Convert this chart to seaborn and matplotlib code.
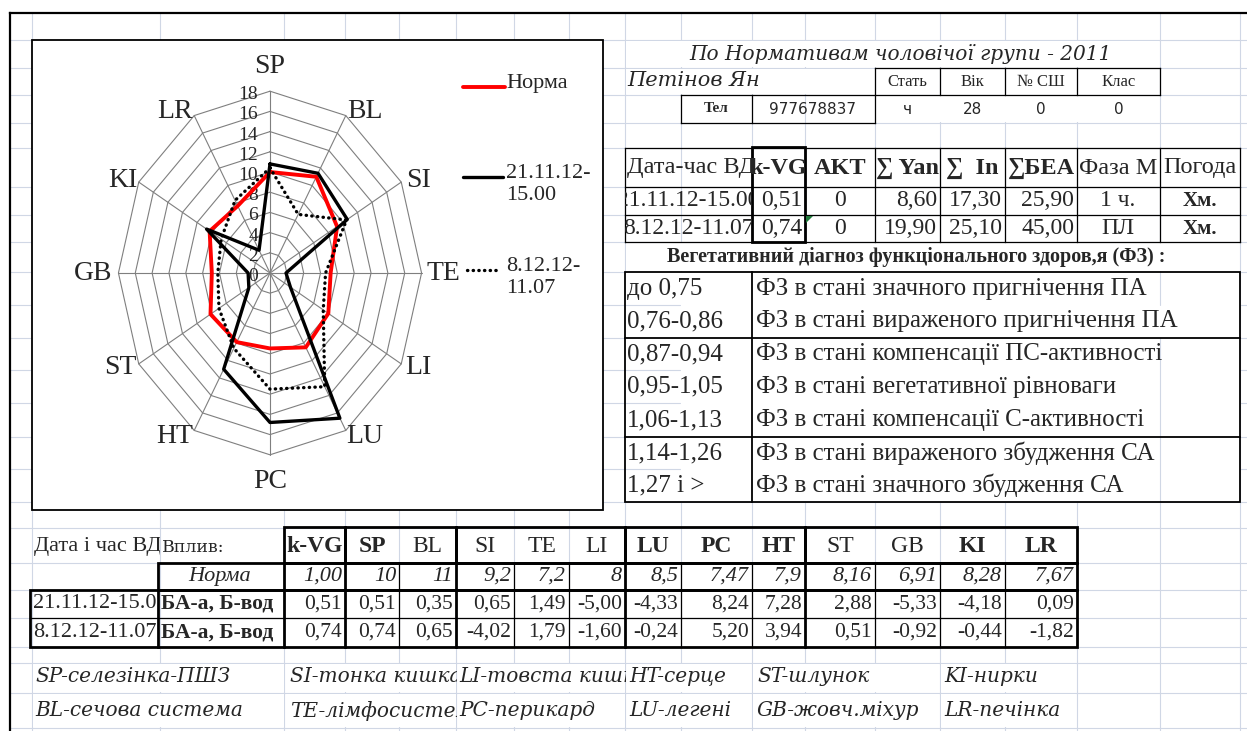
import numpy as np
import pandas as pd
import matplotlib
matplotlib.use("Agg")
import matplotlib.pyplot as plt
import seaborn as sns
from matplotlib.patches import Rectangle, Polygon
from matplotlib.transforms import Bbox, TransformedBbox

# ---- radar data ----
ORGANS = ["SP", "BL", "SI", "TE", "LI", "LU", "PC", "HT", "ST", "GB", "KI", "LR"]
NORMA = [10, 11, 9.2, 7.2, 8, 8.5, 7.47, 7.9, 8.16, 6.91, 8.28, 7.67]
VISIT_1 = [10.8, 11.4, 10.6, 1.9, 2.8, 16.6, 14.8, 11.0, 2.9, 2.6, 8.7, 2.6]
VISIT_2 = [10.4, 6.7, 10.5, 6.6, 7.3, 13.0, 11.5, 8.6, 7.0, 6.2, 6.7, 8.3]
RADAR_TICKS = list(range(0, 19, 2))
LEGEND_NAMES = ["Норма", "21.11.12-\n15.00", "8.12.12-\n11.07"]

# ---- patient block ----
TITLE = "По Нормативам чоловічої групи - 2011"
NAME = "Петінов Ян"
INFO_HEAD = ["Стать", "Вік", "№ СШ", "Клас"]
INFO_VALS = ["ч", "28", "0", "0"]
PHONE = "977678837"

# ---- visit table ----
HEAD_COLS = ["Дата-час ВД", "k-VG", "AKT", "∑ Yan", "∑  In", "∑БЕА", "Фаза М", "Погода"]
VISIT_DATES = ["21.11.12-15.00", "8.12.12-11.07"]
KVG = ["0,51", "0,74"]
AKT = ["0", "0"]
SUM_YAN = ["8,60", "19,90"]
SUM_IN = ["17,30", "25,10"]
SUM_BEA = ["25,90", "45,00"]
MOON = ["1 ч.", "ПЛ"]
WEATHER = ["Хм.", "Хм."]

# ---- diagnosis table ----
DIAG_TITLE = "Вегетативний діагноз функціонального здоров,я (ФЗ) :"
DIAG_RANGES = ["до 0,75", "0,76-0,86", "0,87-0,94", "0,95-1,05", "1,06-1,13", "1,14-1,26", "1,27 і >"]
DIAG_TEXT = ["ФЗ в стані значного пригнічення ПА",
             "ФЗ в стані вираженого пригнічення ПА",
             "ФЗ в стані компенсації ПС-активності",
             "ФЗ в стані вегетативної рівноваги",
             "ФЗ в стані компенсації С-активності",
             "ФЗ в стані вираженого збудження СА",
             "ФЗ в стані значного збудження СА"]

# ---- bottom table ----
BOTTOM_HEAD = ["k-VG"] + ORGANS
BOLD_HEAD = {"k-VG", "SP", "LU", "PC", "HT", "KI", "LR"}
NORMA_ROW = ["1,00", "10", "11", "9,2", "7,2", "8", "8,5", "7,47", "7,9", "8,16", "6,91", "8,28", "7,67"]
ROW_1 = ["0,51", "0,51", "0,35", "0,65", "1,49", "-5,00", "-4,33", "8,24", "7,28", "2,88", "-5,33", "-4,18", "0,09"]
ROW_2 = ["0,74", "0,74", "0,65", "-4,02", "1,79", "-1,60", "-0,24", "5,20", "3,94", "0,51", "-0,92", "-0,44", "-1,82"]
INFLUENCE = "БА-а, Б-вод"

FOOT_1 = ["SP-селезінка-ПШЗ", "SI-тонка кишка", "LI-товста кишка", "HT-серце", "ST-шлунок", "KI-нирки"]
FOOT_2 = ["BL-сечова система", "TE-лімфосистема", "PC-перикард", "LU-легені", "GB-жовч.міхур", "LR-печінка"]

# ---- sheet layout (pixels) ----
W, H = 1247, 731
GRID = "#d0d7e5"
COL_LINES = [32, 160, 284, 345, 399, 456, 514, 569, 625, 681, 752, 805, 875, 940, 1005, 1077, 1160, 1240]
ROW_LINES = [40, 68, 95, 123, 148, 187, 215, 242, 272, 305, 338, 370, 403, 437, 469, 502,
             528, 563, 590, 618, 647, 663, 693, 728]
TOP_COLS = [625, 752, 805, 875, 940, 1005, 1077, 1160, 1240]
BOT_COLS = [284, 345, 399, 456, 514, 569, 625, 681, 752, 805, 875, 940, 1005, 1077]
BOT_GROUPS = [284, 345, 456, 625, 805, 1077]
DIAG_ROWS = [272, 305, 338, 370, 403, 437, 469, 502]
FOOT_X = [35, 290, 459, 629, 757, 944]
FOOT_CELLS = [32, 285, 457, 626, 752, 940, 1077]

sns.set_style("white")
plt.rcParams["font.family"] = ["Liberation Serif", "DejaVu Serif"]
SERIF2 = ["DejaVu Serif"]

fig = plt.figure(figsize=(W / 100, H / 100), dpi=100)
sheet = fig.add_axes([0, 0, 1, 1])
sheet.set_xlim(0, W)
sheet.set_ylim(H, 0)
sheet.axis("off")


def clip_to(artist, x0, y0, x1, y1):
    artist.set_clip_box(TransformedBbox(Bbox.from_extents(x0, y0, x1, y1), sheet.transData))
    artist.set_clip_on(True)


def put(x, y, s, size, ha="left", clip=None, **kw):
    t = sheet.text(x, y, s, fontsize=size, ha=ha, va="center", zorder=6, **kw)
    if clip:
        clip_to(t, *clip)
    return t


def vl(x, y0, y1, lw=0.9):
    sheet.plot([x, x], [y0, y1], color="black", lw=lw, zorder=5, solid_capstyle="projecting")


def hl(y, x0, x1, lw=0.9):
    sheet.plot([x0, x1], [y, y], color="black", lw=lw, zorder=5, solid_capstyle="projecting")


def mask(x0, y0, x1, y1):
    sheet.add_patch(Rectangle((x0, y0), x1 - x0, y1 - y0, fc="white", ec="none", zorder=2))


# spreadsheet grid
for x in COL_LINES:
    sheet.plot([x, x], [13, H], color=GRID, lw=0.8, zorder=1)
for y in ROW_LINES:
    sheet.plot([10, W], [y, y], color=GRID, lw=0.8, zorder=1)
hl(13, 10, W, lw=1.6)
vl(10, 13, H, lw=1.6)

# overflowing text hides gridlines
mask(626, 41, 1159, 67)
mask(626, 69, 874, 94)
mask(876, 96, 1159, 122)
mask(626, 243, 1239, 271)
mask(625, 272, 1240, 502)
for yy in [(664, 692), (694, 727)]:
    for a, b in zip(FOOT_CELLS[:-1], FOOT_CELLS[1:]):
        mask(a + 1, yy[0], b - 1, yy[1])
for y in [305, 370, 403, 469]:
    sheet.plot([625, 680], [y, y], color=GRID, lw=0.8, zorder=3)
for y0, y1 in [(272, 305), (338, 502)]:
    sheet.plot([1160, 1160], [y0, y1], color=GRID, lw=0.8, zorder=3)

# ---- chart box + legend ----
sheet.add_patch(Rectangle((32, 40), 571, 470, fc="white", ec="black", lw=1.3, zorder=3))
LEG_STYLE = [dict(color="red", lw=2.8), dict(color="black", lw=2.4),
             dict(color="black", lw=2.4, linestyle=(0, (0.1, 1.6)), dash_capstyle="round")]
LEG_KEYS = [(463, 505, 87), (463, 503, 177), (467, 500, 270)]
for name, style, (a, b, y) in zip(LEGEND_NAMES, LEG_STYLE, LEG_KEYS):
    sheet.plot([a, b], [y, y], zorder=4, **style)
    sheet.text(506, y - 13, name, fontsize=16, ha="left", va="top", linespacing=1.2, zorder=4)

# ---- radar ----
ax = fig.add_axes([32 / W, 1 - 510 / H, 571 / W, 470 / H])
ax.patch.set_alpha(0)
angles = np.deg2rad(np.arange(len(ORGANS)) * 30)


def closed(vals):
    v = np.r_[vals, vals[0]]
    a = np.r_[angles, angles[0]]
    return v * np.sin(a), v * np.cos(a)


for t in RADAR_TICKS[1:]:
    gx, gy = closed([t] * len(ORGANS))
    ax.plot(gx, gy, color="#7f7f7f", lw=0.8, zorder=1)
for a in angles:
    ax.plot([0, RADAR_TICKS[-1] * np.sin(a)], [0, RADAR_TICKS[-1] * np.cos(a)],
            color="#7f7f7f", lw=0.8, zorder=1)

series = [(NORMA, LEG_STYLE[0]), (VISIT_1, LEG_STYLE[1]), (VISIT_2, LEG_STYLE[2])]
for vals, style in series:
    sx, sy = closed(vals)
    sns.lineplot(x=sx, y=sy, sort=False, estimator=None, ax=ax, legend=False, zorder=4, **style)

for t in RADAR_TICKS:
    ax.text(-1.4, t - 0.35, str(t), fontsize=14, ha="right", va="center", zorder=2)

LABEL_OFFSETS = [(0, -25), (19, -4), (17, -2), (22, 0), (17, 4), (19, 6),
                 (0, 27), (-20, 6), (-18, 4), (-25, 0), (-16, -2), (-19, -4)]
for name, a, (dx, dy) in zip(ORGANS, angles, LABEL_OFFSETS):
    ax.annotate(name, (RADAR_TICKS[-1] * np.sin(a), RADAR_TICKS[-1] * np.cos(a)),
                xytext=(dx * 0.72, -dy * 0.72), textcoords="offset points",
                ha="center", va="center", fontsize=20)

ax.set_xlim(-(270 - 32) / 8.42, (603 - 270) / 8.42)
ax.set_ylim(-(510 - 273) / 10.1, (273 - 40) / 10.1)
ax.axis("off")

# ---- patient block ----
put(900, 54, TITLE, 14.5, ha="center", family=SERIF2, style="italic")
put(627, 81, NAME, 15, family=SERIF2, style="italic")
info_cols = [875, 940, 1005, 1077, 1160]
hl(68, 875, 1160)
hl(95, 681, 1160)
hl(123, 681, 875)
for x in info_cols:
    vl(x, 68, 95)
for x in [681, 752, 875]:
    vl(x, 95, 123)
for a, b, h, v in zip(info_cols[:-1], info_cols[1:], INFO_HEAD, INFO_VALS):
    put((a + b) / 2, 81.5, h, 12, ha="center")
    put((a + b) / 2, 109, v, 11, ha="center", family=["DejaVu Sans"])
put(716, 109, "Тел", 11, ha="center", weight="bold")
put(813, 109, PHONE, 11, ha="center", family=["DejaVu Sans"])

# ---- visit table ----
hl(148, 625, 1240)
hl(187, 625, 1240)
hl(215, 625, 1240)
hl(242, 625, 1240)
for x in TOP_COLS:
    vl(x, 148, 242)
sheet.add_patch(Rectangle((752, 147), 53, 95, fill=False, ec="black", lw=2.0, zorder=5))
hy = 168
put(627, hy, HEAD_COLS[0], 17.5, clip=(625, 148, 752, 187))
put(778.5, hy, HEAD_COLS[1], 17.5, ha="center", weight="bold", clip=(752, 148, 805, 187))
for (a, b), lab in zip([(805, 875), (875, 940), (940, 1005), (1005, 1077)], HEAD_COLS[2:6]):
    put((a + b) / 2, hy, lab, 17.5, ha="center", weight="bold", clip=(a, 148, b, 187))
put(1118.5, hy, HEAD_COLS[6], 17.5, ha="center")
put(1200, hy, HEAD_COLS[7], 17.5, ha="center")
for i, y in enumerate([201, 228.5]):
    put(688, y, VISIT_DATES[i], 17, ha="center", clip=(625, 187, 752, 242))
    put(802, y, KVG[i], 17, ha="right")
    put(840, y, AKT[i], 17, ha="center")
    put(937, y, SUM_YAN[i], 17, ha="right")
    put(1002, y, SUM_IN[i], 17, ha="right")
    put(1074, y, SUM_BEA[i], 17, ha="right")
    put(1118, y, MOON[i], 17, ha="center")
    put(1200, y, WEATHER[i], 15, ha="center", weight="bold")
sheet.add_patch(Polygon([[806, 216], [813, 216], [806, 223]], fc="#1f7a3a", ec="none", zorder=6))

# ---- diagnosis table ----
put(916, 257, DIAG_TITLE, 14.5, ha="center", weight="bold")
sheet.add_patch(Rectangle((625, 272), 615, 230, fill=False, ec="black", lw=1.3, zorder=5))
vl(752, 272, 502, lw=1.3)
hl(338, 625, 1240, lw=1.3)
hl(437, 625, 1240, lw=1.3)
for i, (rng, txt) in enumerate(zip(DIAG_RANGES, DIAG_TEXT)):
    y = (DIAG_ROWS[i] + DIAG_ROWS[i + 1]) / 2
    put(627, y, rng, 18)
    put(756, y, txt, 18)

# ---- bottom table ----
put(34, 547, "Дата і час ВД", 16, clip=(30, 528, 160, 563))
put(162, 547, "Вплив:", 12.5, family=SERIF2)
for a, b in zip(BOT_GROUPS[:-1], BOT_GROUPS[1:]):
    sheet.add_patch(Rectangle((a, 527), b - a, 36, fill=False, ec="black", lw=2.0, zorder=5))
sheet.add_patch(Rectangle((158, 563), 1077 - 158, 27, fill=False, ec="black", lw=2.0, zorder=5))
sheet.add_patch(Rectangle((30, 590), 1077 - 30, 57, fill=False, ec="black", lw=2.0, zorder=5))
vl(158, 590, 647, lw=2.0)
hl(618, 30, 1077)
for x in BOT_COLS[:-1]:
    lw = 2.0 if x in BOT_GROUPS else 0.9
    vl(x, 563, 647, lw=lw)
for i, lab in enumerate(BOTTOM_HEAD):
    a, b = BOT_COLS[i], BOT_COLS[i + 1]
    put((a + b) / 2, 546, lab, 17, ha="center",
        weight="bold" if lab in BOLD_HEAD else "normal")
    put(b - 3, 576.5, NORMA_ROW[i], 16, ha="right", style="italic")
    put(b - 3, 604, ROW_1[i], 15.5, ha="right")
    put(b - 3, 632.5, ROW_2[i], 15.5, ha="right")
put(220, 576.5, "Норма", 16, ha="center", style="italic")
for i, y in enumerate([604, 632.5]):
    put(33, y, VISIT_DATES[i], 16, clip=(30, 590, 158, 647))
    put(161, y, INFLUENCE, 15.5, weight="bold", clip=(158, 590, 284, 647))

# ---- footer ----
for row, y in [(FOOT_1, 677), (FOOT_2, 711)]:
    for j, (x, s) in enumerate(zip(FOOT_X, row)):
        put(x, y, s, 14.5, family=SERIF2, style="italic",
            clip=(FOOT_CELLS[j], 663, FOOT_CELLS[j + 1], 728))

fig.savefig("out.png", dpi=100)
